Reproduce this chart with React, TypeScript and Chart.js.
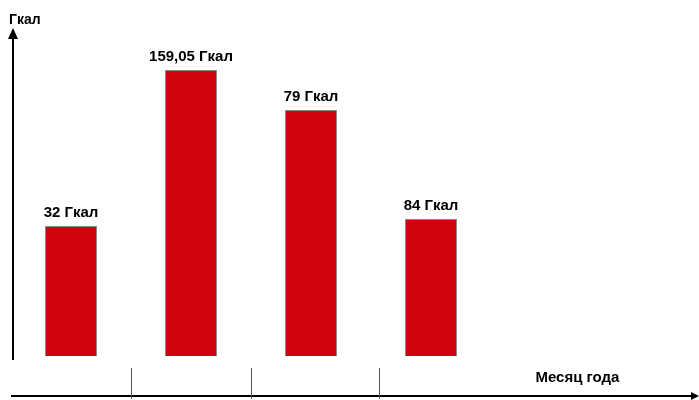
import React, { useEffect, useRef } from "react";
import { Chart, registerables } from "chart.js";

Chart.register(...registerables);

const categories = ["1", "2", "3", "4"];
const barHeights = [45.5, 100, 86, 47.9];
const barLabels = ["32 Гкал", "159,05 Гкал", "79 Гкал", "84 Гкал"];
const tickDividers = [0.5, 1.5, 2.57];
const yAxisTitle = "Гкал";
const xAxisTitle = "Месяц года";

function makePattern(): CanvasPattern | string {
  const c = document.createElement("canvas");
  c.width = 4;
  c.height = 4;
  const g = c.getContext("2d");
  if (!g) return "#d0000c";
  g.fillStyle = "#d4000c";
  g.fillRect(0, 0, 4, 4);
  g.fillStyle = "#bb1420";
  g.fillRect(0, 0, 1, 1);
  g.fillRect(2, 2, 1, 1);
  const p = g.createPattern(c, "repeat");
  return p || "#d0000c";
}

const FONT = "'Liberation Sans', Arial, sans-serif";

const decorPlugin = {
  id: "decor",
  afterDatasetsDraw(chart: any) {
    const { ctx, chartArea, scales } = chart;
    const xs = scales.x;
    const W = chart.width;
    ctx.save();
    ctx.strokeStyle = "#000";
    ctx.fillStyle = "#000";
    // y axis
    const yx = chartArea.left + 2;
    ctx.lineWidth = 2;
    ctx.beginPath();
    ctx.moveTo(yx, chartArea.bottom + 4);
    ctx.lineTo(yx, chartArea.top + 6);
    ctx.stroke();
    ctx.beginPath();
    ctx.moveTo(yx, chartArea.top - 2);
    ctx.lineTo(yx - 5, chartArea.top + 9);
    ctx.lineTo(yx + 5, chartArea.top + 9);
    ctx.closePath();
    ctx.fill();
    // x axis
    const ax = chartArea.bottom + 40;
    ctx.beginPath();
    ctx.moveTo(chartArea.left, ax);
    ctx.lineTo(W - 6, ax);
    ctx.stroke();
    ctx.beginPath();
    ctx.moveTo(W, ax);
    ctx.lineTo(W - 8, ax - 4);
    ctx.lineTo(W - 8, ax + 4);
    ctx.closePath();
    ctx.fill();
    // dividers
    ctx.lineWidth = 1;
    ctx.strokeStyle = "#555";
    tickDividers.forEach((v) => {
      const px = Math.round(xs.getPixelForValue(v)) + 0.5;
      ctx.beginPath();
      ctx.moveTo(px, chartArea.bottom + 12);
      ctx.lineTo(px, ax + 3);
      ctx.stroke();
    });
    // titles
    ctx.fillStyle = "#000";
    ctx.textBaseline = "alphabetic";
    ctx.textAlign = "left";
    ctx.font = `bold 14px ${FONT}`;
    ctx.fillText(yAxisTitle, chartArea.left - 2, chartArea.top - 6);
    ctx.font = `bold 15px ${FONT}`;
    ctx.fillText(xAxisTitle, xs.getPixelForValue(3.87), chartArea.bottom + 26);
    // bar labels
    ctx.font = `bold 15px ${FONT}`;
    ctx.textAlign = "center";
    const meta = chart.getDatasetMeta(0);
    meta.data.forEach((bar: any, i: number) => {
      ctx.fillText(barLabels[i], bar.x, bar.y - 9);
    });
    ctx.restore();
  },
};

export default function App() {
  const ref = useRef<HTMLCanvasElement | null>(null);
  useEffect(() => {
    document.body.style.margin = "0";
    if (!ref.current) return;
    const chart = new Chart(ref.current, {
      type: "bar",
      data: {
        labels: categories,
        datasets: [
          {
            data: barHeights,
            backgroundColor: makePattern() as any,
            borderColor: "#8a8a8a",
            borderWidth: 1,
            barPercentage: 0.434,
            categoryPercentage: 1,
          },
        ],
      },
      options: {
        responsive: false,
        animation: false,
        layout: { padding: { left: 11, top: 30, right: 208, bottom: 44 } },
        plugins: { legend: { display: false }, tooltip: { enabled: false } },
        scales: {
          x: { display: false },
          y: { display: false, min: 0, max: 114 },
        },
      },
      plugins: [decorPlugin],
    });
    return () => chart.destroy();
  }, []);
  return <canvas ref={ref} width={699} height={400} style={{ display: "block" }} />;
}
